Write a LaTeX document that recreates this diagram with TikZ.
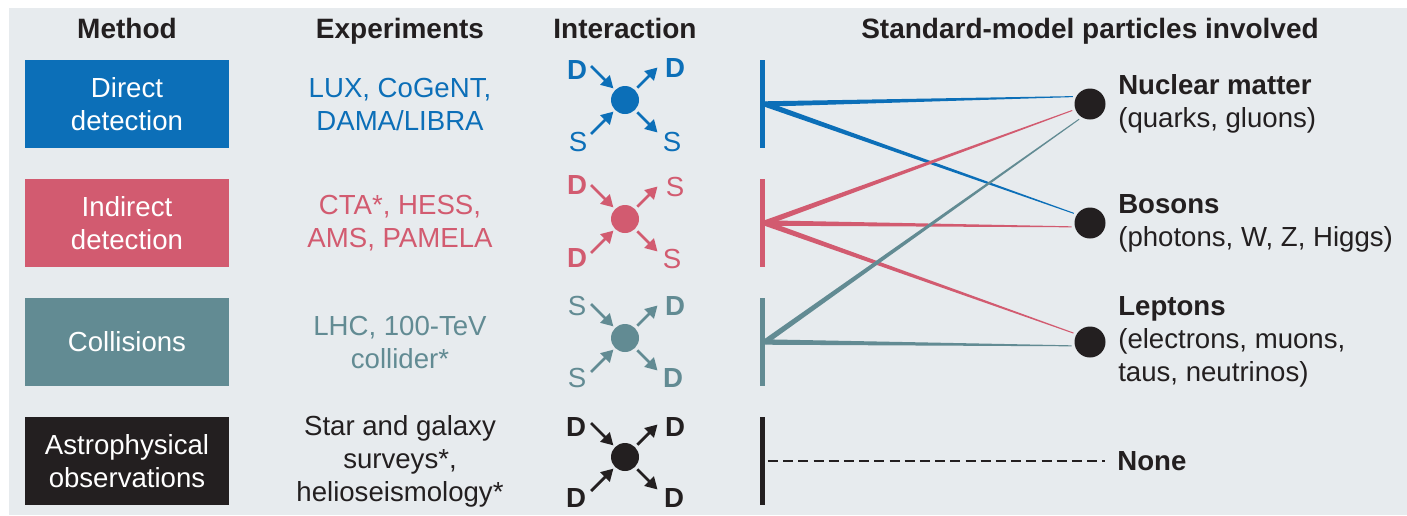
\documentclass[tikz,border=0pt]{standalone}
\usepackage{fontspec}
\setmainfont{Liberation Sans}
\usetikzlibrary{arrows.meta, positioning, calc}

\definecolor{ddblue}{HTML}{0C6FB8}
\definecolor{idred}{HTML}{D25B70}
\definecolor{colteal}{HTML}{628B93}
\definecolor{astdark}{HTML}{231F20}
\definecolor{panelgray}{HTML}{E7EBEE}

% tapered link: colour, from, to
\newcommand{\taper}[3]{%
  \fill[#1] let \p1 = (#2), \p2 = ($(#3)!1.5pt!(#2)$),
                \n1 = {atan2(\y2-\y1,\x2-\x1)} in
    ($(\p1)+({\n1+90}:1.35pt)$) -- ($(\p2)+({\n1+90}:0.25pt)$) --
    ($(\p2)+({\n1-90}:0.25pt)$) -- ($(\p1)+({\n1-90}:1.35pt)$) -- cycle;}

\begin{document}
\begin{tikzpicture}[
        x = 0.5pt, y = 0.5pt,
        font = \fontsize{13.8}{16.5}\selectfont,
        >= {Triangle[length = 6pt, width = 6.5pt]},
        header/.style = {font = \fontsize{14}{16}\selectfont\bfseries, text = astdark, anchor = base},
        method/.style = {fill = #1, text = white, align = center, minimum width = 102pt, minimum height = 44pt, inner sep = 0pt},
        expt/.style = {text = #1, align = center},
        vertex/.style = {circle, fill = #1, minimum size = 14pt, inner sep = 0pt},
        leg/.style = {text = #1, inner sep = 0pt},
        leg arrow/.style = {draw = #1, line width = 1.4pt, ->, shorten >= 1pt, shorten <= 0pt},
        bar/.style = {fill = #1, minimum width = 2.5pt, minimum height = 44pt, inner sep = 0pt},
        particle/.style = {circle, fill = astdark, minimum size = 15.5pt, inner sep = 0pt},
        plabel/.style = {align = left, inner sep = 0pt, text = astdark, right = 6pt of #1}
    ]

      \useasboundingbox (0,0) rectangle (1407,-515);
      \fill[panelgray] (9,-8) rectangle (1407,-515);

      % column headers
      \node[header] (h_method) at (127,-38) {Method};
      \node[header] (h_expt) at (400,-38) {Experiments};
      \node[header] (h_inter) at (625,-38) {Interaction};
      \node[header] (h_part) at (1090,-38) {Standard-model particles involved};

      % methods
      \node[method = ddblue] (m1) at (127,-104) {Direct\\detection};
      \node[method = idred] (m2) at (127,-223) {Indirect\\detection};
      \node[method = colteal] (m3) at (127,-342) {Collisions};
      \node[method = astdark] (m4) at (127,-461) {Astrophysical\\observations};

      % experiments
      \node[expt = ddblue] (e1) at (400,-104) {LUX, CoGeNT,\\DAMA/LIBRA};
      \node[expt = idred] (e2) at (400,-223) {CTA*, HESS,\\AMS, PAMELA};
      \node[expt = colteal] (e3) at (400,-342) {LHC, 100-TeV\\collider*};
      \node[expt = astdark] (e4) at (400,-461) {Star and galaxy\\surveys*,\\helioseismology*};

      % interactions
      \node[vertex = ddblue] (v1) at (625,-100) {};
      \node[vertex = idred] (v2) at (625,-219) {};
      \node[vertex = colteal] (v3) at (625,-338) {};
      \node[vertex = astdark] (v4) at (625,-457) {};

      \node[leg = ddblue] (v1ul) at ($(v1)+(-48,30)$) {\textbf{D}};
      \node[leg = ddblue] (v1ur) at ($(v1)+(50,32)$) {\textbf{D}};
      \node[leg = ddblue] (v1ll) at ($(v1)+(-47,-42)$) {S};
      \node[leg = ddblue] (v1lr) at ($(v1)+(47,-42)$) {S};

      \node[leg = idred] (v2ul) at ($(v2)+(-48,34)$) {\textbf{D}};
      \node[leg = idred] (v2ur) at ($(v2)+(50,32)$) {S};
      \node[leg = idred] (v2ll) at ($(v2)+(-48,-39)$) {\textbf{D}};
      \node[leg = idred] (v2lr) at ($(v2)+(47,-40)$) {S};

      \node[leg = colteal] (v3ul) at ($(v3)+(-48,32)$) {S};
      \node[leg = colteal] (v3ur) at ($(v3)+(50,32)$) {\textbf{D}};
      \node[leg = colteal] (v3ll) at ($(v3)+(-48,-40)$) {S};
      \node[leg = colteal] (v3lr) at ($(v3)+(48,-40)$) {\textbf{D}};

      \node[leg = astdark] (v4ul) at ($(v4)+(-49,30)$) {\textbf{D}};
      \node[leg = astdark] (v4ur) at ($(v4)+(50,30)$) {\textbf{D}};
      \node[leg = astdark] (v4ll) at ($(v4)+(-49,-41)$) {\textbf{D}};
      \node[leg = astdark] (v4lr) at ($(v4)+(49,-41)$) {\textbf{D}};

      \foreach \v/\col in {v1/ddblue, v2/idred, v3/colteal, v4/astdark} {
          \draw[leg arrow = \col] ($(\v)+(135:24pt)$) -- (\v.135);
          \draw[leg arrow = \col] ($(\v)+(225:24pt)$) -- (\v.225);
          \draw[leg arrow = \col, shorten <= 1.5pt] (\v.45) -- ($(\v)+(45:24pt)$);
          \draw[leg arrow = \col, shorten <= 1.5pt] (\v.-45) -- ($(\v)+(-45:24pt)$);
      }

      % particles
      \node[particle] (nuc) at (1090,-104) {};
      \node[particle] (bos) at (1090,-223) {};
      \node[particle] (lep) at (1090,-342) {};

      \node[plabel = nuc] (nuc_t) {\textbf{Nuclear matter}\\(quarks, gluons)};
      \node[plabel = bos] (bos_t) {\textbf{Bosons}\\(photons, W, Z, Higgs)};
      \node[plabel = lep] (lep_t) {\textbf{Leptons}\\(electrons, muons,\\taus, neutrinos)};
      \node[inner sep = 0pt, anchor = west, text = astdark, font = \fontsize{13.8}{16.5}\selectfont\bfseries] (none) at (1117,-461) {None};

      % bars and links
      \node[bar = ddblue] (b1) at (762,-104) {};
      \node[bar = idred] (b2) at (762,-223) {};
      \node[bar = colteal] (b3) at (762,-342) {};
      \node[bar = astdark] (b4) at (762,-461) {};

      \taper{ddblue}{b1.east}{nuc.152}
      \taper{ddblue}{b1.east}{bos.147}
      \taper{idred}{b2.east}{nuc.200}
      \taper{idred}{b2.east}{bos.194}
      \taper{idred}{b2.east}{lep.150}
      \taper{colteal}{b3.east}{nuc.238}
      \taper{colteal}{b3.east}{lep.194}

      \draw[astdark, line width = 1.2pt, dash pattern = on 5pt off 2.6pt, shorten <= 1.5pt, shorten >= 6pt] (b4.east) -- (none.west);

    \end{tikzpicture}
\end{document}
